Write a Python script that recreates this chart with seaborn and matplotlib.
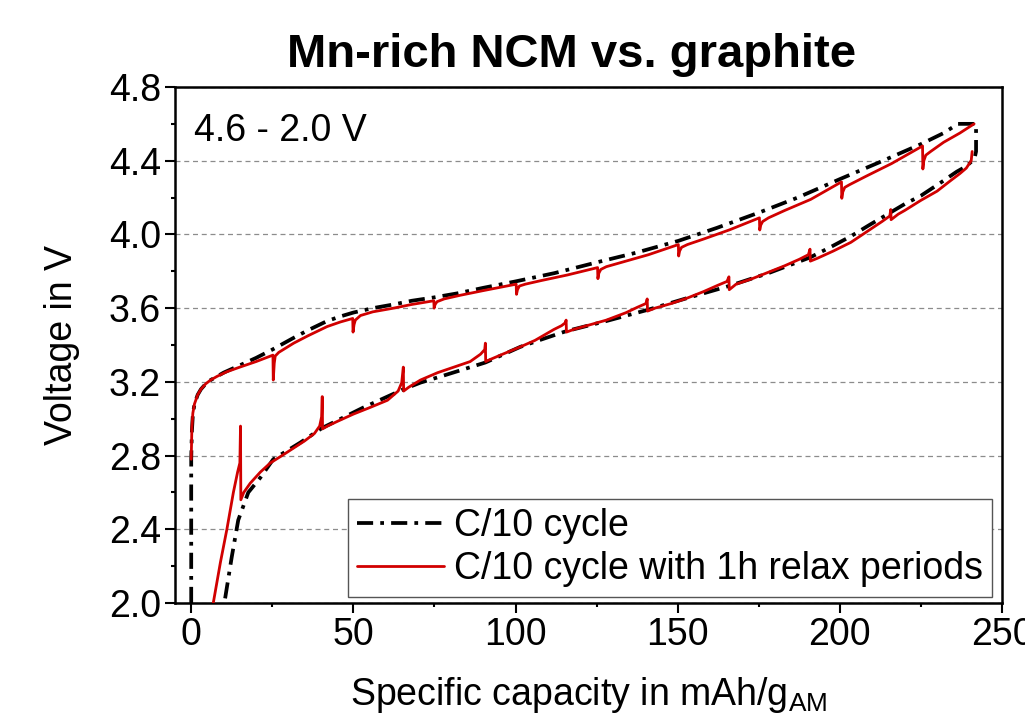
import matplotlib
matplotlib.use("Agg")
import matplotlib.pyplot as plt
import seaborn as sns
import numpy as np
import pandas as pd
from matplotlib.ticker import MultipleLocator, FormatStrFormatter
from matplotlib.lines import Line2D

# ---------------- data ----------------
# C/10 cycle (black, dash-dot): charge, 4.6 V hold, then discharge
black_cap = [0, 0, 0.2, 0.5, 1, 2, 3, 4.5, 6, 8, 10, 15, 20, 25, 31.6, 36, 41.9, 46, 50,
             56, 62.4, 68, 74.8, 82, 90, 100, 112, 125.4, 137, 150.2, 162, 175.3, 187,
             200, 212, 225, 232, 236.4, 242, 242,
             241.5, 239, 236, 231, 225, 220, 215.7, 209, 203.4, 197, 190.8, 178, 165.8,
             153, 140.6, 128, 115.6, 108, 101.5, 90.7, 78, 70.7, 65.5, 53, 45, 40.4,
             33.6, 25.3, 21.3, 17.6, 14.5, 12.5, 10.5, 10.2]
black_volt = [2.0, 2.78, 2.93, 3.02, 3.08, 3.13, 3.16, 3.19, 3.21, 3.23, 3.25, 3.29, 3.33,
              3.375, 3.439, 3.48, 3.53, 3.555, 3.576, 3.60, 3.62, 3.64, 3.658, 3.68, 3.71,
              3.745, 3.79, 3.85, 3.90, 3.965, 4.035, 4.12, 4.20, 4.30, 4.39, 4.49, 4.55,
              4.60, 4.60, 4.45,
              4.41, 4.37, 4.34, 4.28, 4.21, 4.165, 4.12, 4.05, 3.99, 3.93, 3.875, 3.79,
              3.72, 3.655, 3.59, 3.53, 3.475, 3.43, 3.39, 3.305, 3.235, 3.196, 3.16, 3.06,
              2.99, 2.95, 2.87, 2.78, 2.68, 2.60, 2.45, 2.25, 2.03, 2.0]

# C/10 cycle with 1h relax periods (red): charge branch
red_ch_cap = [0, 0.2, 0.5, 1, 2, 3, 4.5, 6, 8, 11, 15, 20, 25.2,
              25.3, 25.6, 25.9, 27, 31.6, 36, 41.9, 46, 49.8,
              49.9, 50.2, 50.6, 52.2, 56, 62.4, 68, 74.8,
              74.9, 75.2, 75.8, 78, 83, 90, 100.2,
              100.3, 100.6, 101.2, 103, 108, 116, 125.3,
              125.4, 125.7, 126.3, 128, 133, 141, 150.2,
              150.3, 150.6, 151.2, 153, 158, 166, 175.2,
              175.3, 175.6, 176.2, 178, 183, 191, 200.5,
              200.6, 200.9, 201.5, 203, 208, 216, 225.5,
              225.6, 225.9, 226.5, 228, 232, 237, 241.4]
red_ch_volt = [2.78, 2.95, 3.03, 3.08, 3.13, 3.16, 3.19, 3.21, 3.23, 3.255, 3.28, 3.31, 3.345,
               3.21, 3.30, 3.34, 3.36, 3.41, 3.45, 3.50, 3.525, 3.544,
               3.47, 3.51, 3.535, 3.56, 3.58, 3.60, 3.62, 3.64,
               3.60, 3.62, 3.635, 3.65, 3.67, 3.695, 3.73,
               3.675, 3.70, 3.72, 3.73, 3.75, 3.78, 3.82,
               3.76, 3.79, 3.81, 3.825, 3.85, 3.89, 3.945,
               3.883, 3.91, 3.93, 3.945, 3.975, 4.025, 4.09,
               4.024, 4.05, 4.07, 4.09, 4.13, 4.19, 4.285,
               4.196, 4.23, 4.255, 4.27, 4.315, 4.385, 4.48,
               4.355, 4.40, 4.43, 4.45, 4.50, 4.55, 4.60]

# red: discharge branch (listed from low to high capacity)
red_dis_cap = [6.8, 9, 11, 13, 14.3, 15.0, 15.2, 15.3,
               16.2, 18.2, 21.3, 24.4, 28, 31.5, 35, 38, 39.6, 40.2, 40.4, 40.5,
               42, 45, 50, 55, 60.5, 63.8, 64.9, 65.4, 65.5,
               67, 70.7, 76, 81, 86, 89.2, 90.5, 90.7, 90.8,
               92, 96, 101.5, 106, 111.8, 114.2, 115.3, 115.6, 115.7,
               118, 122, 128, 134, 137.6, 140.2, 140.6, 140.7,
               143, 148, 153, 158, 162.5, 165.2, 165.8, 165.9,
               168, 173, 178, 183, 187.5, 190.3, 190.8, 190.9,
               193, 198, 203.4, 209.6, 213, 215.4, 215.7, 215.8,
               218, 220, 225, 230, 234, 237, 239, 240.5, 240.8]
red_dis_volt = [2.0, 2.22, 2.40, 2.60, 2.71, 2.76, 2.96, 2.56,
                2.60, 2.65, 2.71, 2.76, 2.80, 2.84, 2.88, 2.92, 2.96, 3.01, 3.12, 2.945,
                2.96, 2.985, 3.025, 3.06, 3.10, 3.15, 3.195, 3.28, 3.15,
                3.17, 3.21, 3.25, 3.28, 3.31, 3.35, 3.375, 3.41, 3.31,
                3.32, 3.35, 3.39, 3.425, 3.484, 3.505, 3.52, 3.535, 3.47,
                3.485, 3.505, 3.535, 3.575, 3.605, 3.625, 3.65, 3.584,
                3.60, 3.625, 3.655, 3.69, 3.725, 3.745, 3.77, 3.70,
                3.73, 3.76, 3.795, 3.83, 3.865, 3.89, 3.92, 3.855,
                3.87, 3.91, 3.957, 4.03, 4.07, 4.10, 4.135, 4.08,
                4.11, 4.13, 4.185, 4.235, 4.29, 4.33, 4.36, 4.40, 4.45]

legend_labels = ["C/10 cycle", "C/10 cycle with 1h relax periods"]
title_text = "Mn-rich NCM vs. graphite"
range_text = "4.6 - 2.0 V"
x_label = "Specific capacity in mAh/g$_{\\mathregular{AM}}$"
y_label = "Voltage in V"

# ---------------- styling ----------------
sns.set_theme(style="ticks")
plt.rcParams["font.family"] = ["Liberation Sans", "DejaVu Sans"]
plt.rcParams["mathtext.fontset"] = "custom"
plt.rcParams["mathtext.rm"] = "Liberation Sans"
for key in ["text.color", "axes.labelcolor", "axes.edgecolor", "xtick.color", "ytick.color"]:
    plt.rcParams[key] = "black"

RED = "#d10000"
DASHDOT = (0, (4.3, 1.9, 1.0, 1.9))

fig = plt.figure(figsize=(10.25, 7.28), dpi=100)
ax = fig.add_axes([175 / 1025, 1 - 603 / 728, 827 / 1025, 516 / 728])

ax.yaxis.grid(True, which="major", linestyle=(0, (4, 3)), color="#8c8c8c", linewidth=0.9)
ax.set_axisbelow(True)

sns.lineplot(x=red_ch_cap, y=red_ch_volt, sort=False, estimator=None, color=RED,
             linewidth=2.0, ax=ax, legend=False)
sns.lineplot(x=red_dis_cap, y=red_dis_volt, sort=False, estimator=None, color=RED,
             linewidth=2.0, ax=ax, legend=False)
sns.lineplot(x=black_cap, y=black_volt, sort=False, estimator=None, color="black",
             linewidth=2.7, ax=ax, legend=False)
ax.lines[-1].set_linestyle(DASHDOT)
ax.lines[0].set_zorder(3)
ax.lines[1].set_zorder(3)

ax.set_xlim(-5, 250)
ax.set_ylim(2.0, 4.8)
ax.xaxis.set_major_locator(MultipleLocator(50))
ax.xaxis.set_minor_locator(MultipleLocator(25))
ax.yaxis.set_major_locator(MultipleLocator(0.4))
ax.yaxis.set_minor_locator(MultipleLocator(0.2))
ax.yaxis.set_major_formatter(FormatStrFormatter("%.1f"))
ax.tick_params(which="major", direction="out", length=7.2, width=1.5, labelsize=27, pad=3)
ax.tick_params(which="minor", direction="out", length=3.2, width=1.5)
for s in ax.spines.values():
    s.set_linewidth(1.8)
    s.set_color("black")

ax.set_xlabel(x_label, fontsize=27)
ax.xaxis.set_label_coords(0.5, -0.14)
ax.set_ylabel(y_label, fontsize=27)
ax.yaxis.set_label_coords(-0.115, 0.5)

ax.text(0.023, 0.896, range_text, transform=ax.transAxes, fontsize=27,
        ha="left", va="baseline")
fig.text(0.558, 1 - 67 / 728, title_text, ha="center", va="baseline",
         fontsize=34, fontweight="bold")

handles = [Line2D([], [], color="black", linewidth=2.7, linestyle=DASHDOT),
           Line2D([], [], color=RED, linewidth=2.0)]
leg = ax.legend(handles, legend_labels, loc="lower right", bbox_to_anchor=(0.988, 0.012),
                fontsize=27, frameon=True, fancybox=False, edgecolor="#555555",
                framealpha=1, handlelength=2.33, handletextpad=0.25, borderpad=0.25,
                labelspacing=0.2, borderaxespad=0)
leg.get_frame().set_linewidth(1.0)

fig.savefig("out.png", dpi=100)
